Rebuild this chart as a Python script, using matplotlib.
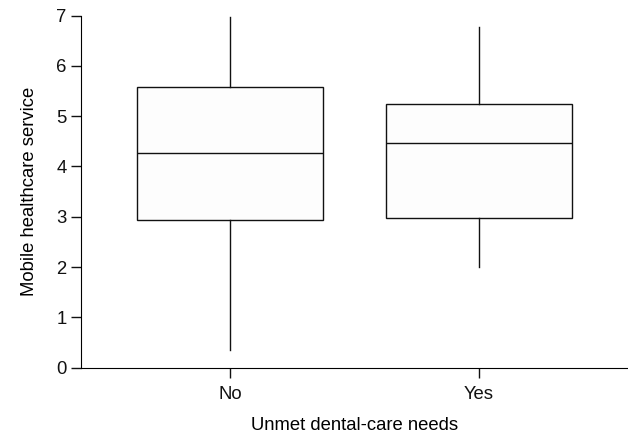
import matplotlib.pyplot as plt

plt.rcParams['font.family'] = ['Liberation Sans', 'DejaVu Sans']

# group summaries
groups = ['No', 'Yes']
whislo = [0.35, 2.01]
q1 = [2.94, 2.98]
med = [4.26, 4.47]
q3 = [5.58, 5.24]
whishi = [6.98, 6.77]

stats = []
for i, g in enumerate(groups):
    stats.append({'label': g, 'whislo': whislo[i], 'q1': q1[i], 'med': med[i],
                  'q3': q3[i], 'whishi': whishi[i], 'fliers': []})

fig = plt.figure(figsize=(6.28, 4.34), dpi=100)
ax = fig.add_axes([0.129, 0.153, 0.871, 0.811])

line = dict(color='#111111', linewidth=1.0)
ax.bxp(stats, positions=[1, 2], widths=0.75, patch_artist=True, showcaps=False,
       boxprops=dict(facecolor='#fdfdfd', edgecolor='#111111', linewidth=1.0),
       medianprops=line, whiskerprops=line)

ax.set_xlim(0.4, 2.6)
ax.set_ylim(0, 7)
ax.set_yticks(range(8))
ax.spines['top'].set_visible(False)
ax.spines['right'].set_visible(False)
ax.tick_params(direction='out', length=7, width=1, labelsize=13.3, colors='#111111')
ax.tick_params(axis='x', pad=6)
ax.set_xlabel('Unmet dental-care needs', fontsize=13.3, labelpad=10)
ax.set_ylabel('Mobile healthcare service', fontsize=13.3, labelpad=13)

fig.savefig('out.png', dpi=100)
